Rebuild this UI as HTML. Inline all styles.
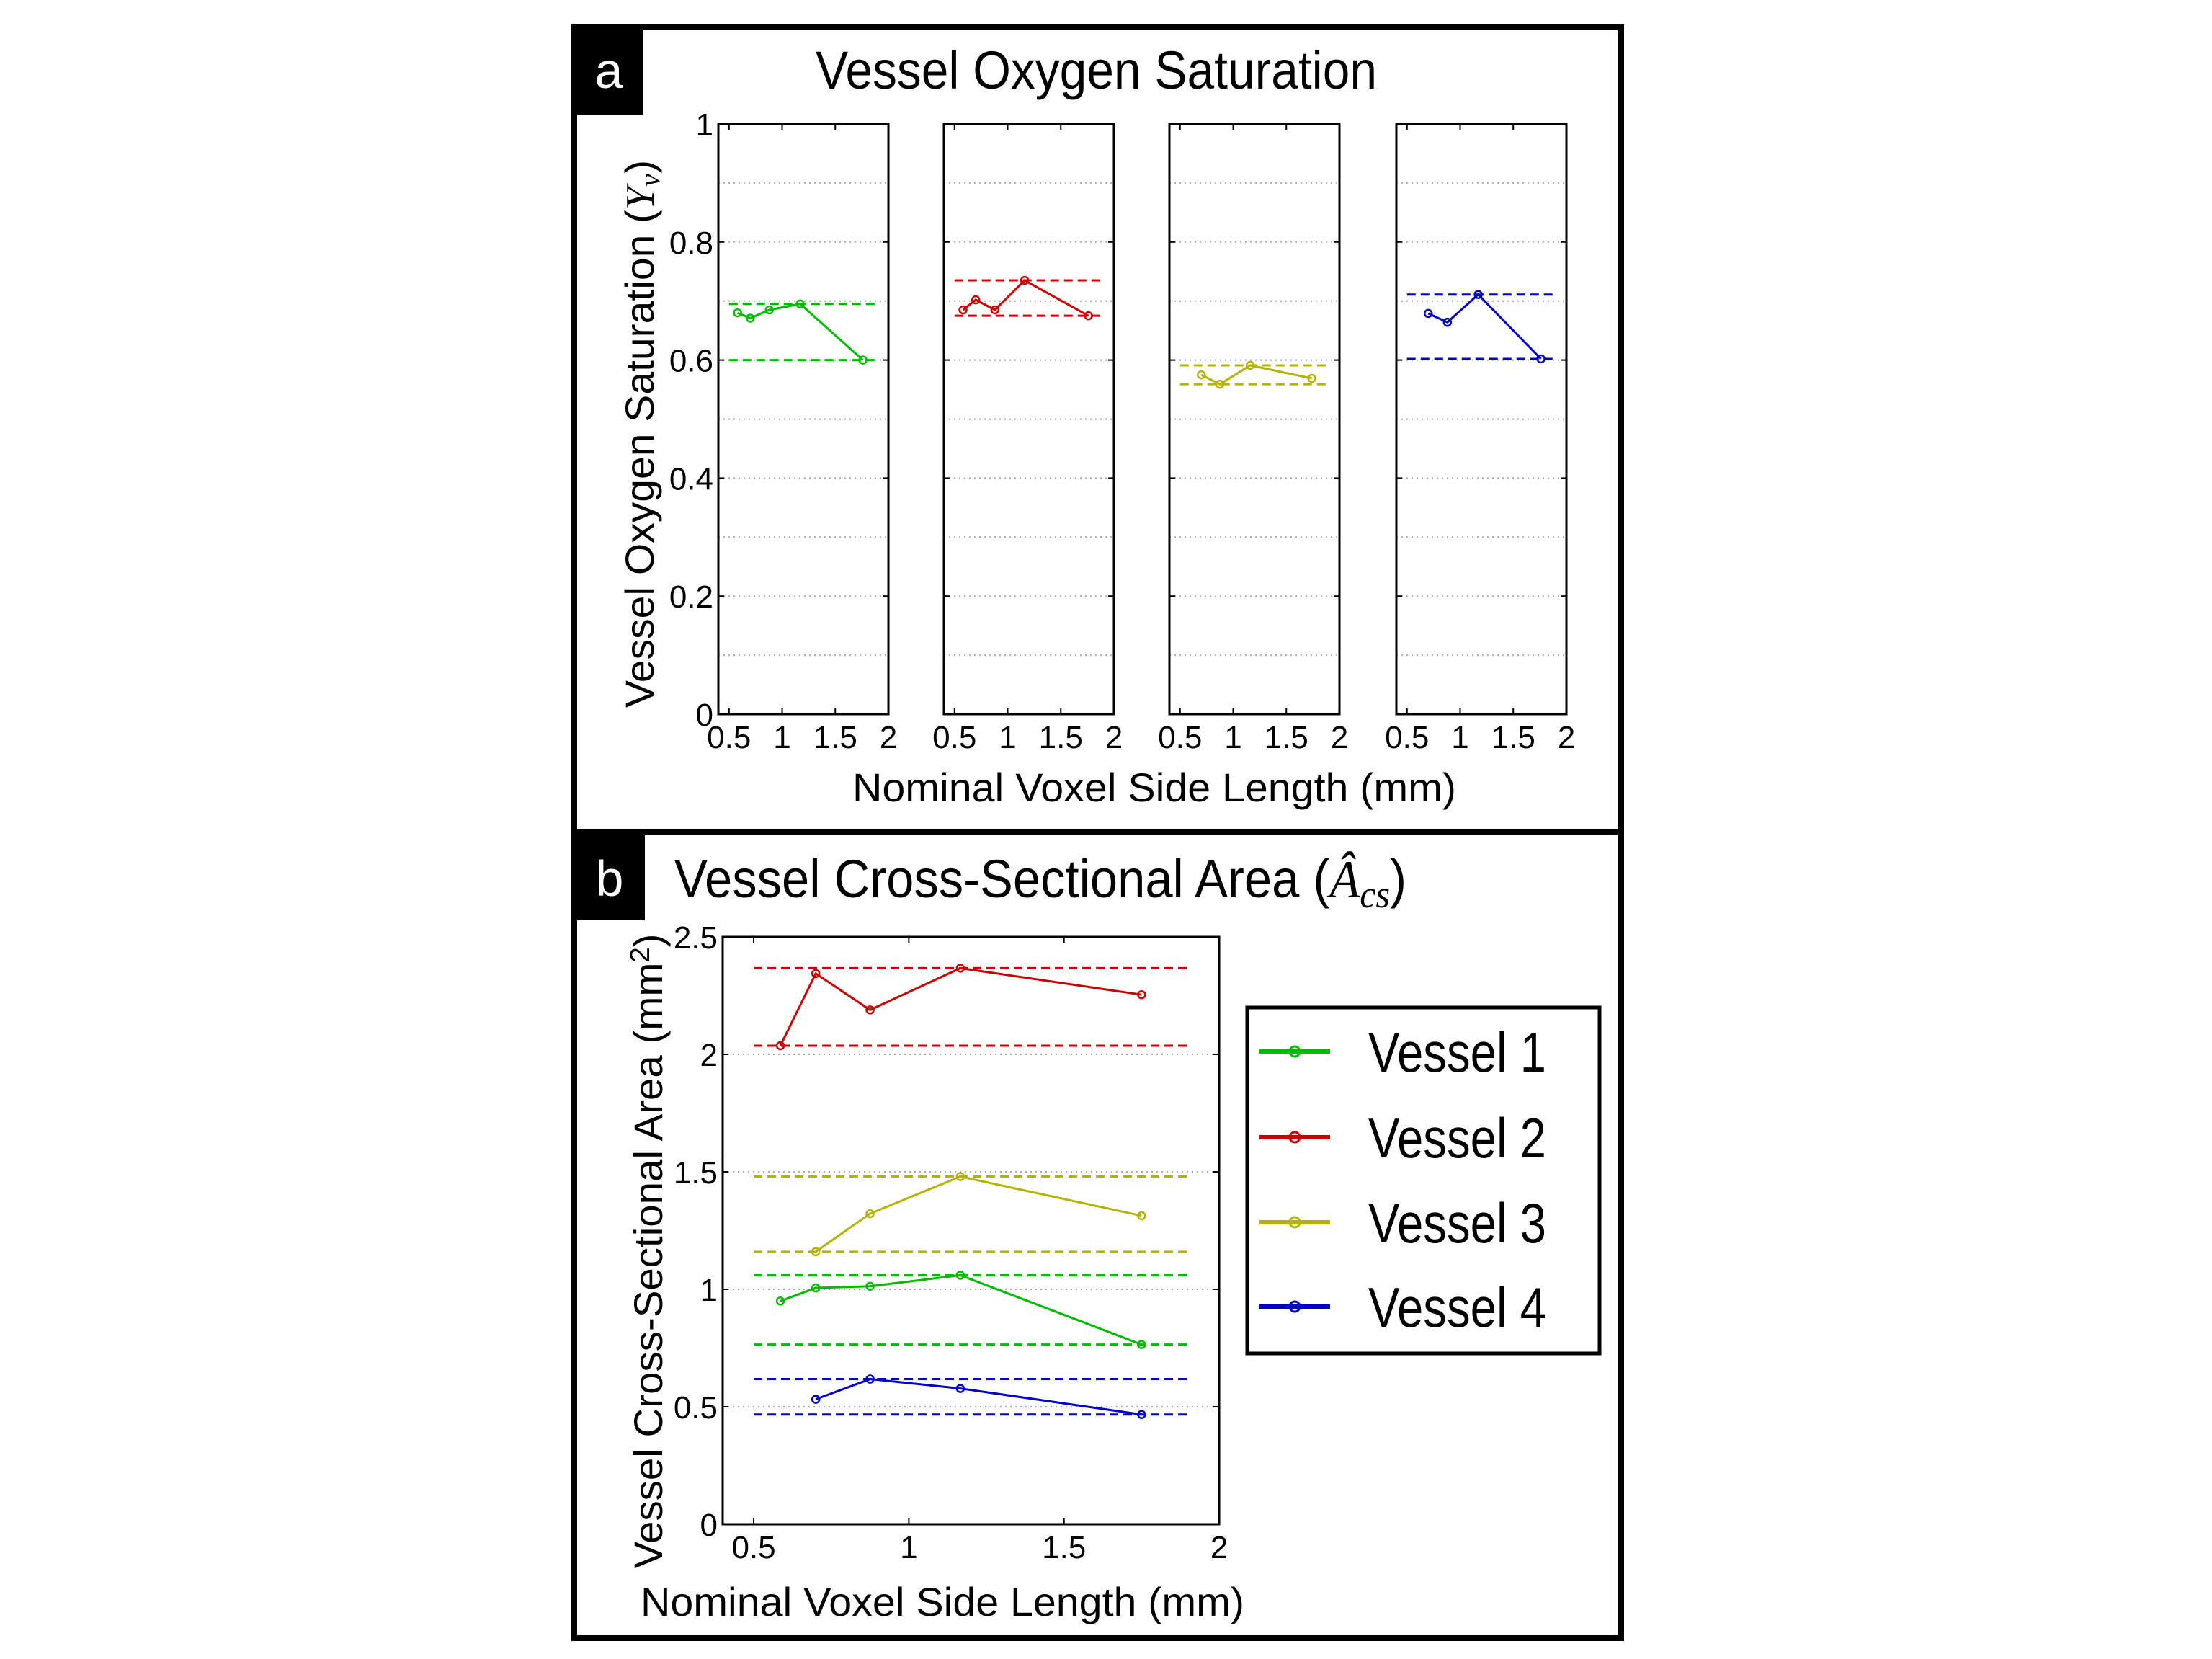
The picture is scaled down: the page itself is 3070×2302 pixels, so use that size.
<!DOCTYPE html>
<html><head><meta charset="utf-8"><style>
html,body{margin:0;padding:0;background:#fff;}
svg{display:block;font-family:"Liberation Sans",sans-serif;}
</style></head><body>
<svg id="fig" width="3070" height="2302" viewBox="0 0 3070 2302" xmlns="http://www.w3.org/2000/svg">
<rect x="0" y="0" width="3070" height="2302" fill="#fff"/>
<rect x="797" y="37" width="1453" height="2236" fill="none" stroke="#000" stroke-width="8"/>
<line x1="797" y1="1155" x2="2250" y2="1155" stroke="#000" stroke-width="8"/>
<rect x="797" y="37" width="96" height="123" fill="#000"/>
<text x="845" y="122" font-size="70" fill="#fff" text-anchor="middle">a</text>
<rect x="797" y="1159" width="98" height="118" fill="#000"/>
<text x="846" y="1243" font-size="70" fill="#fff" text-anchor="middle">b</text>
<text x="1132" y="123" font-size="74" textLength="779" lengthAdjust="spacingAndGlyphs">Vessel Oxygen Saturation</text>
<text x="936" y="1245" font-size="74" textLength="1016" lengthAdjust="spacingAndGlyphs">Vessel Cross-Sectional Area (<tspan font-family="Liberation Serif" font-style="italic">Â<tspan font-size="54" dy="14">cs</tspan></tspan><tspan dy="-14">)</tspan></text>
<text transform="translate(907,602) rotate(-90)" font-size="56" text-anchor="middle" textLength="760" lengthAdjust="spacingAndGlyphs">Vessel Oxygen Saturation (<tspan font-family="Liberation Serif" font-style="italic">Y<tspan font-size="40" dy="8">v</tspan></tspan><tspan dy="-8">)</tspan></text>
<text x="1602" y="1112" font-size="56" text-anchor="middle" textLength="838" lengthAdjust="spacingAndGlyphs">Nominal Voxel Side Length (mm)</text>
<text transform="translate(919,1736) rotate(-90)" font-size="56" text-anchor="middle" textLength="881" lengthAdjust="spacingAndGlyphs">Vessel Cross-Sectional Area (mm<tspan font-size="38" dy="-18">2</tspan><tspan dy="18">)</tspan></text>
<text x="1308" y="2242" font-size="56" text-anchor="middle" textLength="838" lengthAdjust="spacingAndGlyphs">Nominal Voxel Side Length (mm)</text>
<g id="plots"></g>
<g>
<rect x="1731" y="1398" width="489" height="480" fill="#fff" stroke="#000" stroke-width="5"/>
<g id="legend-items"></g>
</g>
</svg>
<script>
const NS='http://www.w3.org/2000/svg';
const colors=['#00bb00','#cc0000','#b3b300','#0000cc'];
const vesselNames=['Vessel 1','Vessel 2','Vessel 3','Vessel 4'];
// Panel a: oxygen saturation
const satX1=[0.58,0.70,0.88,1.17,1.76];
const satY1=[0.680,0.671,0.685,0.695,0.600];
const satX2=[0.58,0.70,0.88,1.16,1.76];
const satY2=[0.685,0.702,0.685,0.735,0.675];
const satX3=[0.70,0.875,1.16,1.74];
const satY3=[0.575,0.559,0.591,0.569];
const satX4=[0.70,0.88,1.17,1.76];
const satY4=[0.679,0.664,0.711,0.602];
const satBounds=[[0.695,0.600],[0.735,0.675],[0.591,0.559],[0.711,0.602]];
const satYTicks=[0,0.2,0.4,0.6,0.8,1];
const satYTickLabels=['0','0.2','0.4','0.6','0.8','1'];
const xTicks=[0.5,1,1.5,2];
const xTickLabels=['0.5','1','1.5','2'];
// Panel b: cross-sectional area
const areaX1=[0.586,0.70,0.875,1.166,1.75];
const areaY1=[0.95,1.006,1.013,1.06,0.765];
const areaX2=[0.586,0.70,0.875,1.166,1.75];
const areaY2=[2.037,2.344,2.189,2.367,2.254];
const areaX3=[0.70,0.875,1.166,1.75];
const areaY3=[1.16,1.322,1.48,1.313];
const areaX4=[0.70,0.875,1.166,1.75];
const areaY4=[0.532,0.618,0.578,0.467];
const areaBounds=[[1.06,0.765],[2.367,2.037],[1.48,1.16],[0.618,0.467]];
const areaYTicks=[0,0.5,1,1.5,2,2.5];
const areaYTickLabels=['0','0.5','1','1.5','2','2.5'];

const root=document.getElementById('plots');
function el(tag,attrs,parent){const e=document.createElementNS(NS,tag);for(const k in attrs)e.setAttribute(k,attrs[k]);(parent||root).appendChild(e);return e;}

function drawAxes(L,R,T,B,xmin,xmax,ymin,ymax,yTicks,yLabels,minorGrid,showYLabels,name,series,bounds,dashX){
  const g=el('g',{});
  
  
  const sx=v=>L+(v-xmin)/(xmax-xmin)*(R-L);
  const sy=v=>B-(v-ymin)/(ymax-ymin)*(B-T);
  const grid=minorGrid?[]:yTicks.slice();
  if(minorGrid){for(let i=1;i<10;i++)grid.push(i/10);}
  grid.forEach(v=>{if(v<=ymin||v>=ymax)return;const ln=el('line',{x1:L,x2:R,y1:sy(v),y2:sy(v),stroke:'#aaa','stroke-width':2,'stroke-dasharray':'2 5'},g);
    
    });
  yTicks.forEach((v,i)=>{
    el('line',{x1:L,x2:L+8,y1:sy(v),y2:sy(v),stroke:'#000','stroke-width':2},g);
    el('line',{x1:R,x2:R-8,y1:sy(v),y2:sy(v),stroke:'#000','stroke-width':2},g);
    if(showYLabels){const t=el('text',{x:L-7,y:sy(v)+16,'font-size':44,'text-anchor':'end'},g);t.textContent=yLabels[i];
      
      }
  });
  xTicks.forEach((v,i)=>{
    el('line',{x1:sx(v),x2:sx(v),y1:B,y2:B-8,stroke:'#000','stroke-width':2},g);
    el('line',{x1:sx(v),x2:sx(v),y1:T,y2:T+8,stroke:'#000','stroke-width':2},g);
    const t=el('text',{x:sx(v),y:B+47,'font-size':44,'text-anchor':'middle'},g);t.textContent=xTickLabels[i];
    
    
  });
  bounds.forEach(([c,b])=>{
    [b[0],b[1]].forEach(v=>{const ln=el('line',{x1:sx(dashX[0]),x2:sx(dashX[1]),y1:sy(v),y2:sy(v),stroke:c,'stroke-width':3,'stroke-dasharray':'12 7'},g);
      
      });
  });
  series.forEach(s=>{
    const pts=s.x.map((v,i)=>sx(v)+','+sy(s.y[i])).join(' ');
    const pl=el('polyline',{points:pts,fill:'none',stroke:s.c,'stroke-width':3},g);
    
    
    s.x.forEach((v,i)=>{const c=el('circle',{cx:sx(v),cy:sy(s.y[i]),r:5,fill:'none',stroke:s.c,'stroke-width':2.5},g);
      
      });
  });
  el('rect',{x:L,y:T,width:R-L,height:B-T,fill:'none',stroke:'#000','stroke-width':3},g);
}
const satSeries=[[satX1,satY1],[satX2,satY2],[satX3,satY3],[satX4,satY4]];
const lefts=[997,1310,1623,1938];
satSeries.forEach((s,i)=>{
  drawAxes(lefts[i],lefts[i]+236,172,991,0.4,2,0,1,satYTicks,satYTickLabels,true,i===0,'saturation-subplot-'+(i+1),
    [{x:s[0],y:s[1],c:colors[i],name:'vessel-'+(i+1)}],[[colors[i],satBounds[i]]],[0.5,1.91]);
});
const areaSeries=[[areaX1,areaY1],[areaX2,areaY2],[areaX3,areaY3],[areaX4,areaY4]];
drawAxes(1003,1692,1300,2115,0.4,2,0,2.5,areaYTicks,areaYTickLabels,false,true,'area-plot',
  areaSeries.map((s,i)=>({x:s[0],y:s[1],c:colors[i],name:'vessel-'+(i+1)})),
  areaBounds.map((b,i)=>[colors[i],b]),[0.5,1.9]);
const lg=document.getElementById('legend-items');
const ly=[1459,1578,1696,1813];
vesselNames.forEach((n,i)=>{
  const g=el('g',{},lg);
  
  
  el('line',{x1:1748,x2:1846,y1:ly[i],y2:ly[i],stroke:colors[i],'stroke-width':6},g);
  el('circle',{cx:1797,cy:ly[i],r:7,fill:'none',stroke:colors[i],'stroke-width':3},g);
  const t=el('text',{x:1899,y:ly[i]+28,'font-size':78,textLength:247,lengthAdjust:'spacingAndGlyphs'},g);
  t.textContent=n;
});
</script>
</body></html>
